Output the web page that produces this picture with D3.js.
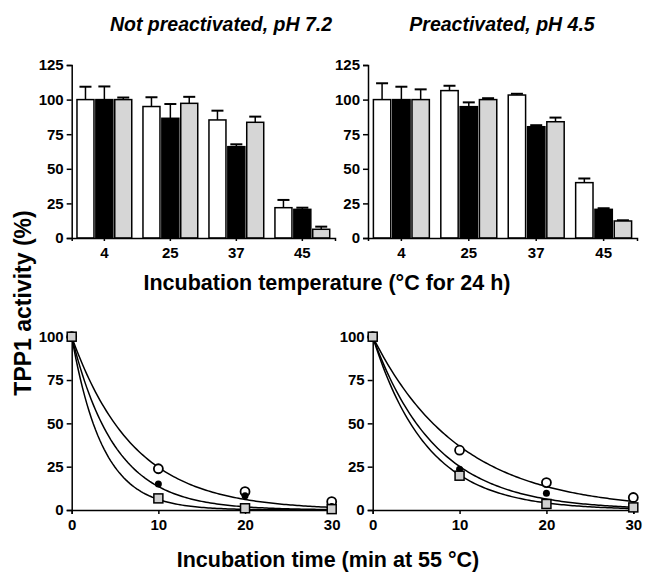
<!DOCTYPE html>
<meta charset="utf-8">
<script src="https://d3js.org/d3.v7.min.js"></script>
<style>
body { margin: 0; background: #fff; }
text { font-family: "Liberation Sans", Arial, sans-serif; font-weight: bold; fill: #000; }
.axis path, .axis line { stroke: #000; stroke-width: 1.5px; }
.axis text { font-size: 15px; }
</style>
<body>
<script>

// bar data: temperatures, three series per panel (white, black, gray)
var temps = ["4", "25", "37", "45"];
var seriesFill = ["#ffffff", "#000000", "#d6d6d6"];

var notPreMean = [[100, 95, 85.3, 21.9], [100, 86.5, 66, 20.7], [100, 97.3, 83.6, 6.3]];
var notPreErr  = [[109.3, 101.7, 92, 27.5], [109.5, 96.8, 67.7, 21.9], [101.5, 102, 87.7, 8.2]];
var preMean = [[100, 106.5, 103.3, 40], [100, 94.9, 80.4, 20.7], [100, 100, 84, 12.3]];
var preErr  = [[111.8, 110, 104.2, 43], [109.3, 98, 81.5, 21.5], [107.4, 101, 87, 12.8]];

// time course at 55 C
var times = [0, 10, 20, 30];
var notPreCircle = [100, 23.8, 10.6, 4.8];
var notPreDot    = [100, 15, 8.2, 2];
var notPreSquare = [100, 6.7, 1, 0.5];
var prCircle = [100, 34.5, 15.8, 7.2];
var prDot    = [100, 23.5, 9.6, 2];
var prSquare = [100, 19.8, 3.5, 1.5];

// fitted decay rate constants (1/min)
var notPreRates = [0.14, 0.2, 0.28];
var preRates    = [0.1, 0.138, 0.16];

var width = 651, height = 575;

var svg = d3.select("body").append("svg")
    .attr("width", width)
    .attr("height", height);

function barPanel(x0, x1, means, errs) {
  var y = d3.scaleLinear().domain([0, 125]).range([238, 65]);
  var xg = d3.scaleBand().domain(temps).range([x0, x1]).paddingInner(0.17).paddingOuter(0.08);
  var xs = d3.scaleBand().domain([0, 1, 2]).range([0, xg.bandwidth()]).paddingInner(0.1);

  var g = svg.append("g");

  temps.forEach(function(t, i) {
    [0, 1, 2].forEach(function(s) {
      var bx = xg(t) + xs(s), bw = xs.bandwidth();
      var cx = bx + bw / 2;
      g.append("line")
        .attr("x1", cx).attr("x2", cx)
        .attr("y1", y(means[s][i])).attr("y2", y(errs[s][i]))
        .attr("stroke", "#000").attr("stroke-width", 1.5);
      g.append("line")
        .attr("x1", cx - 6).attr("x2", cx + 6)
        .attr("y1", y(errs[s][i])).attr("y2", y(errs[s][i]))
        .attr("stroke", "#000").attr("stroke-width", 2);
      g.append("rect")
        .attr("x", bx).attr("width", bw)
        .attr("y", y(means[s][i]))
        .attr("height", y(0) - y(means[s][i]))
        .attr("fill", seriesFill[s])
        .attr("stroke", "#000").attr("stroke-width", 1.5);
    });
  });

  svg.append("g").attr("class", "axis")
    .attr("transform", "translate(" + x0 + ",0)")
    .call(d3.axisLeft(y).tickValues([0, 25, 50, 75, 100, 125]).tickSize(5).tickPadding(3));
  svg.append("g").attr("class", "axis")
    .attr("transform", "translate(0," + y(0) + ")")
    .call(d3.axisBottom(xg).tickSize(3).tickPadding(6));
}

function timePanel(x0, x1, circ, dot, sq, rates) {
  var y = d3.scaleLinear().domain([0, 100]).range([510, 336.7]);
  var x = d3.scaleLinear().domain([0, 30]).range([x0, x1]);
  var g = svg.append("g");

  var line = d3.line().x(function(d) { return x(d[0]); }).y(function(d) { return y(d[1]); });
  rates.forEach(function(k) {
    var pts = d3.range(0, 30.01, 0.25).map(function(t) { return [t, 100 * Math.exp(-k * t)]; });
    g.append("path").attr("d", line(pts))
      .attr("fill", "none").attr("stroke", "#000").attr("stroke-width", 1.5);
  });

  svg.append("g").attr("class", "axis")
    .attr("transform", "translate(" + x0 + ",0)")
    .call(d3.axisLeft(y).tickValues([0, 25, 50, 75, 100]).tickSize(5).tickPadding(3));
  svg.append("g").attr("class", "axis")
    .attr("transform", "translate(0," + y(0) + ")")
    .call(d3.axisBottom(x).tickValues(times).tickSize(4).tickPadding(5));

  g = svg.append("g");
  g.selectAll(".oc").data(times).enter().append("circle")
    .attr("cx", function(d) { return x(d); })
    .attr("cy", function(d, i) { return y(circ[i]); })
    .attr("r", 4.5).attr("fill", "#fff").attr("stroke", "#000").attr("stroke-width", 1.8);
  g.selectAll(".fc").data(times).enter().append("circle")
    .attr("cx", function(d) { return x(d); })
    .attr("cy", function(d, i) { return y(dot[i]); })
    .attr("r", 3.5).attr("fill", "#000");
  g.selectAll(".sq").data(times).enter().append("rect")
    .attr("x", function(d) { return x(d) - 4.5; })
    .attr("y", function(d, i) { return y(sq[i]) - 4.5; })
    .attr("width", 9).attr("height", 9)
    .attr("fill", "#d0d0d0").attr("stroke", "#000").attr("stroke-width", 1.5);
}

barPanel(71.7, 335, notPreMean, notPreErr);
barPanel(368, 637, preMean, preErr);
timePanel(71.7, 331.7, notPreCircle, notPreDot, notPreSquare, notPreRates);
timePanel(372.7, 633.3, prCircle, prDot, prSquare, preRates);

// titles
svg.append("text").attr("x", 221).attr("y", 31).attr("text-anchor", "middle")
  .style("font-size", "19.5px").style("font-style", "italic").text("Not preactivated, pH 7.2");
svg.append("text").attr("x", 502).attr("y", 31).attr("text-anchor", "middle")
  .style("font-size", "19.5px").style("font-style", "italic").text("Preactivated, pH 4.5");

svg.append("text").attr("x", 327).attr("y", 290).attr("text-anchor", "middle")
  .style("font-size", "21.5px").text("Incubation temperature (\u00b0C for 24 h)");
svg.append("text").attr("x", 328).attr("y", 567).attr("text-anchor", "middle")
  .style("font-size", "21.5px").text("Incubation time (min at 55\u00a0\u00b0C)");
svg.append("text").attr("transform", "translate(31,303) rotate(-90)").attr("text-anchor", "middle")
  .style("font-size", "23px").text("TPP1 activity (%)");

</script>
</body>
